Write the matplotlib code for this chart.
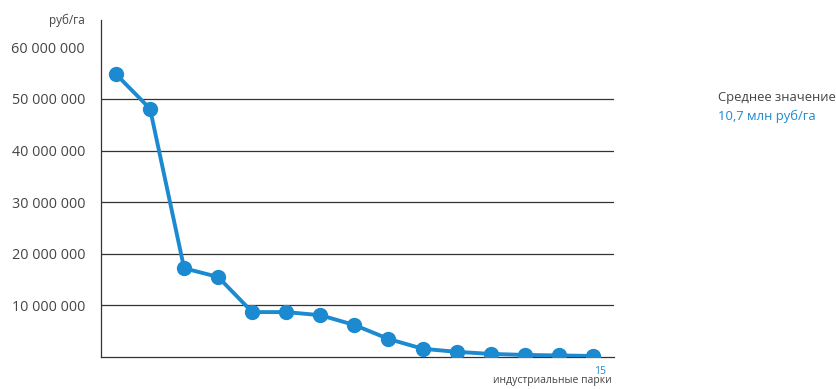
import matplotlib
matplotlib.use('Agg')
import matplotlib.pyplot as plt
from matplotlib.ticker import FuncFormatter

plt.rcParams['font.family'] = ['Open Sans', 'DejaVu Sans']

# земельные затраты по индустриальным паркам, руб/га
parks = list(range(1, 16))
cost = [54.8e6, 48.1e6, 17.2e6, 15.5e6, 8.7e6, 8.7e6, 8.1e6, 6.2e6,
        3.5e6, 1.6e6, 1.0e6, 0.6e6, 0.4e6, 0.3e6, 0.2e6]
y_ticks = [10e6, 20e6, 30e6, 40e6, 50e6, 60e6]
grid_levels = [10e6, 20e6, 30e6, 40e6, 50e6]

blue = '#1b8ad0'
grey = '#444444'

fig = plt.figure(figsize=(8.36, 3.89), dpi=100)
ax = fig.add_axes([101 / 836, 32 / 389, 513 / 836, 337 / 389])

for lvl in grid_levels:
    ax.axhline(lvl, color='#333333', linewidth=0.9, zorder=1)

ax.plot(parks, cost, color=blue, linewidth=2.8, marker='o', markersize=10, zorder=3)

ax.set_xlim(0.56, 15.62)
ax.set_ylim(0, 65.3e6)
ax.set_yticks(y_ticks)
ax.yaxis.set_major_formatter(FuncFormatter(lambda v, p: f'{int(v):,}'.replace(',', ' ')))
ax.tick_params(axis='y', length=0, pad=11.5, labelsize=10.4, labelcolor=grey)
ax.set_xticks([])

for side in ['top', 'right']:
    ax.spines[side].set_visible(False)
ax.spines['left'].set_color('#333333')
ax.spines['bottom'].set_color('#333333')
ax.spines['left'].set_linewidth(0.9)
ax.spines['bottom'].set_linewidth(0.9)

fig.text(85 / 836, 1 - 20 / 389, 'руб/га', ha='right', va='center', fontsize=8.5, color=grey)
fig.text(606 / 836, 1 - 371 / 389, '15', ha='right', va='center', fontsize=7.5, color=blue)
fig.text(612 / 836, 1 - 381 / 389, 'индустриальные парки', ha='right', va='center', fontsize=7.5, color=grey)

fig.text(718 / 836, 1 - 97 / 389, 'Среднее значение', ha='left', va='center', fontsize=9.4, color=grey)
fig.text(718 / 836, 1 - 116 / 389, '10,7 млн руб/га', ha='left', va='center', fontsize=9.4, color=blue)

fig.savefig('out.png', dpi=100)
